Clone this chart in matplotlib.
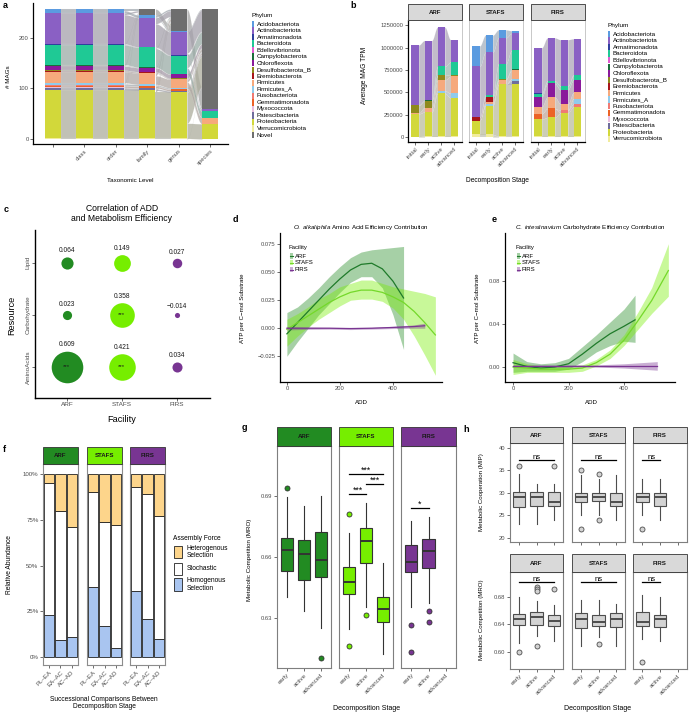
import numpy as np
import matplotlib
matplotlib.use("Agg")
import matplotlib.pyplot as plt
from matplotlib.patches import Rectangle
from matplotlib.colors import to_rgb

plt.rcParams["font.family"] = ["Liberation Sans", "DejaVu Sans"]
plt.rcParams["mathtext.fontset"] = "custom"
plt.rcParams["mathtext.it"] = "Liberation Sans:italic"
plt.rcParams["mathtext.rm"] = "Liberation Sans"

# ---------------- data ----------------
phyla = ["Acidobacteriota", "Actinobacteriota", "Armatimonadota", "Bacteroidota",
         "Bdellovibrionota", "Campylobacterota", "Chloroflexota", "Desulfobacterota_B",
         "Eremiobacterota", "Firmicutes", "Firmicutes_A", "Fusobacteriota",
         "Gemmatimonadota", "Myxococcota", "Patescibacteria", "Proteobacteria",
         "Verrucomicrobiota"]
phylum_colors = ["#5b9be0", "#8a60c4", "#2f3f9e", "#1fc995", "#e25ad0", "#1b6d3a",
                 "#8a1a9b", "#8e8a1c", "#a8161b", "#f6a97c", "#8fcbec", "#f07a73",
                 "#ec6326", "#e9bde0", "#6f6d9c", "#d2d83a", "#f1ec9c"]
novel_color = "#6e6e6e"

# a: MAGs per phylum at each taxonomic level (rows follow `phyla`)
tax_levels = ["", "class", "order", "family", "genus", "species"]
mag_counts = [
    [8, 8, 8, 5, 2, 0],
    [61, 61, 61, 58, 46, 4],
    [2, 2, 2, 1, 1, 0],
    [39, 39, 39, 39, 37, 13],
    [1, 1, 1, 0, 0, 0],
    [1, 1, 1, 1, 0, 0],
    [9, 9, 9, 8, 8, 0],
    [1, 1, 1, 1, 1, 0],
    [2, 2, 2, 2, 1, 0],
    [22, 22, 22, 22, 17, 12],
    [5, 5, 5, 3, 2, 0],
    [1, 1, 1, 1, 1, 0],
    [3, 3, 3, 3, 3, 0],
    [1, 1, 1, 1, 0, 0],
    [4, 4, 4, 4, 3, 0],
    [96, 96, 96, 95, 91, 30],
    [1, 1, 1, 1, 1, 0],
]
mag_novel = [0, 0, 0, 12, 43, 198]

# b: average MAG TPM per phylum (rows follow `phyla`), stages initial..advanced
stages = ["initial", "early", "active", "advanced"]
tpm_arf = [
    [0, 0, 0, 0], [670000, 670000, 440000, 250000], [0, 0, 0, 0], [0, 0, 100000, 140000],
    [0, 0, 0, 0], [5000, 10000, 0, 0], [0, 0, 0, 0], [85000, 70000, 50000, 20000],
    [0, 0, 0, 0], [10000, 50000, 120000, 190000], [0, 0, 30000, 50000], [0, 0, 0, 0],
    [0, 0, 0, 0], [0, 0, 0, 0], [0, 0, 0, 0], [255000, 270000, 480000, 430000],
    [5000, 10000, 10000, 10000]]
tpm_stafs = [
    [230000, 190000, 90000, 30000], [570000, 480000, 290000, 190000], [0, 0, 0, 0],
    [0, 20000, 170000, 210000], [0, 0, 0, 0], [0, 0, 0, 10000], [0, 0, 0, 0],
    [0, 0, 10000, 0], [35000, 60000, 0, 0], [0, 20000, 50000, 100000], [0, 20000, 0, 20000],
    [0, 0, 0, 0], [0, 0, 0, 0], [0, 0, 0, 0], [0, 0, 0, 40000],
    [155000, 320000, 580000, 580000], [30000, 30000, 10000, 10000]]
tpm_firs = [
    [0, 0, 0, 0], [505000, 480000, 520000, 400000], [15000, 0, 0, 10000],
    [30000, 30000, 40000, 50000], [0, 0, 0, 0], [0, 0, 0, 0], [110000, 150000, 160000, 140000],
    [0, 0, 0, 0], [0, 0, 0, 0], [80000, 130000, 70000, 70000], [0, 0, 0, 60000],
    [0, 0, 30000, 30000], [60000, 100000, 0, 0], [0, 0, 0, 0], [0, 0, 0, 0],
    [190000, 210000, 260000, 330000], [10000, 10000, 10000, 10000]]

facilities = ["ARF", "STAFS", "FIRS"]
fac_colors = ["#228b22", "#76ee00", "#783592"]

# c: correlation of ADD and metabolism efficiency
resources = ["AminoAcids", "Carbohydrate", "Lipid"]
rho_arf = [0.609, 0.023, 0.064]
rho_stafs = [0.421, 0.358, 0.149]
rho_firs = [0.034, -0.014, 0.027]
sig_arf = ["***", "", ""]
sig_stafs = ["***", "***", ""]
sig_firs = ["", "", ""]

# d: O. alkaliphila amino acid efficiency contribution (smooth + CI)
d_arf_add = [0, 40, 80, 120, 160, 200, 240, 280, 320, 360, 400, 440]
d_arf_fit = [-0.005, 0.005, 0.015, 0.025, 0.035, 0.044, 0.052, 0.057, 0.058, 0.053, 0.042, 0.027]
d_arf_lo = [-0.025, -0.012, 0.0, 0.012, 0.022, 0.032, 0.041, 0.046, 0.046, 0.036, 0.012, -0.019]
d_arf_hi = [0.014, 0.019, 0.027, 0.036, 0.046, 0.055, 0.063, 0.068, 0.070, 0.071, 0.072, 0.073]
d_stafs_add = [0, 40, 80, 120, 160, 200, 240, 280, 320, 360, 400, 440, 480, 520, 560]
d_stafs_fit = [-0.001, 0.005, 0.011, 0.017, 0.023, 0.028, 0.032, 0.034, 0.034, 0.032, 0.028,
               0.023, 0.015, 0.005, -0.006]
d_stafs_lo = [-0.016, -0.007, 0.001, 0.008, 0.014, 0.020, 0.025, 0.026, 0.026, 0.024, 0.018,
              0.008, -0.007, -0.024, -0.042]
d_stafs_hi = [0.008, 0.013, 0.019, 0.026, 0.031, 0.037, 0.040, 0.043, 0.043, 0.040, 0.037,
              0.035, 0.033, 0.031, 0.028]
d_firs_add = [0, 80, 160, 240, 320, 400, 480, 520]
d_firs_fit = [0.0, 0.0, 0.0, -0.0003, 0.0, 0.0007, 0.0015, 0.0022]
d_firs_lo = [-0.0015, -0.001, -0.0008, -0.0012, -0.0008, -0.0003, 0.0, 0.0]
d_firs_hi = [0.0015, 0.001, 0.0008, 0.0006, 0.0008, 0.0017, 0.003, 0.0045]

# e: C. intestinavium carbohydrate efficiency contribution
e_arf_add = [0, 50, 100, 150, 200, 250, 300, 350, 400, 440]
e_arf_fit = [0.004, 0.0005, -0.001, 0.0, 0.003, 0.012, 0.022, 0.031, 0.038, 0.044]
e_arf_lo = [-0.005, -0.004, -0.004, -0.004, -0.002, 0.005, 0.014, 0.020, 0.024, 0.023]
e_arf_hi = [0.013, 0.005, 0.003, 0.004, 0.008, 0.019, 0.030, 0.042, 0.054, 0.067]
e_stafs_add = [0, 50, 100, 150, 200, 250, 300, 350, 400, 450, 500, 560]
e_stafs_fit = [0.0, -0.001, -0.002, -0.002, -0.002, -0.001, 0.004, 0.012, 0.025, 0.043, 0.062, 0.090]
e_stafs_lo = [-0.007, -0.005, -0.005, -0.005, -0.005, -0.004, 0.001, 0.008, 0.020, 0.035, 0.050, 0.066]
e_stafs_hi = [0.007, 0.003, 0.001, 0.001, 0.001, 0.002, 0.007, 0.016, 0.030, 0.051, 0.074, 0.115]
e_firs_add = [0, 100, 200, 300, 400, 520]
e_firs_fit = [0.001, 0.001, 0.001, 0.001, 0.001, 0.001]
e_firs_lo = [0.0, 0.0, 0.0, 0.0, -0.001, -0.003]
e_firs_hi = [0.002, 0.002, 0.002, 0.002, 0.003, 0.005]

# f: community assembly (% of comparisons)
pairs = ["PL\u2013EA", "EA\u2013AC", "AC\u2013AD"]
homog_arf, stoch_arf, hetero_arf = [23, 9, 11], [72, 71, 60], [5, 20, 29]
homog_stafs, stoch_stafs, hetero_stafs = [38, 17, 5], [52, 57, 67], [10, 26, 28]
homog_firs, stoch_firs, hetero_firs = [36, 21, 10], [57, 68, 67], [7, 11, 23]

# g: metabolic competition (MRO) per stage: whislo, q1, median, q3, whishi
stages3 = ["early", "active", "advanced"]
mro_arf = [[0.6403, 0.6531, 0.6634, 0.6693, 0.6895], [0.6334, 0.6487, 0.6615, 0.6684, 0.6851],
           [0.625, 0.6502, 0.6585, 0.6723, 0.690]]
mro_arf_out = [[0.694], [], [0.6103]]
mro_stafs = [[0.6246, 0.6418, 0.6477, 0.6551, 0.6718], [0.6354, 0.6570, 0.6679, 0.6743, 0.6865],
             [0.6122, 0.6280, 0.6344, 0.6403, 0.6570]]
mro_stafs_out = [[0.6811, 0.6162], [0.6315], []]
mro_firs = [[0.6354, 0.6526, 0.6575, 0.6659, 0.6777], [0.6374, 0.6546, 0.6631, 0.6688, 0.6797], None]
mro_firs_out = [[0.6265, 0.6133], [0.6334, 0.628], []]
g_tests = [("STAFS", 0, 1, "***"), ("STAFS", 1, 2, "***"), ("STAFS", 0, 2, "***"),
           ("FIRS", 0, 1, "*")]

# h: metabolic cooperation (MIP) and competition (MRO)
mip_arf = [[23.2, 26.9, 29.2, 30.3, 34.1], [23.2, 27.0, 29.0, 30.1, 32.0], [24.0, 27.0, 28.0, 30.1, 32.0]]
mip_arf_out = [[36.1], [], [36.0]]
mip_stafs = [[25.2, 28.0, 29.0, 30.0, 34.0], [25.2, 28.2, 29.0, 30.0, 33.0], [24.0, 27.0, 28.0, 30.0, 34.0]]
mip_stafs_out = [[35.2, 22.0], [34.1, 24.0], []]
mip_firs = [[25.2, 28.0, 29.0, 30.0, 33.0], [24.0, 27.0, 29.0, 30.0, 33.0], None]
mip_firs_out = [[22.0], [], []]
mro2_arf = [[0.6124, 0.639, 0.6473, 0.6545, 0.680], [0.6225, 0.6385, 0.650, 0.6575, 0.6735],
            [0.6153, 0.637, 0.6444, 0.6531, 0.6676]]
mro2_arf_out = [[0.599], [0.694, 0.691, 0.688, 0.608], [0.692]]
mro2_stafs = [[0.608, 0.634, 0.648, 0.657, 0.676], [0.621, 0.638, 0.644, 0.654, 0.676],
              [0.609, 0.636, 0.648, 0.657, 0.669]]
mro2_stafs_out = [[], [0.611], []]
mro2_firs = [[0.618, 0.637, 0.644, 0.658, 0.683], [0.615, 0.636, 0.647, 0.654, 0.679], None]
mro2_firs_out = [[0.585], [], []]
h_tests = [("ARF", 0, 2, "ns"), ("STAFS", 0, 2, "ns"), ("FIRS", 0, 1, "ns")]

# ---------------- helpers ----------------
W, H = 691, 714
fig = plt.figure(figsize=(W / 100, H / 100), dpi=100)


def panel(x0, y0, x1, y1):
    return fig.add_axes([x0 / W, 1 - y1 / H, (x1 - x0) / W, (y1 - y0) / H])


ov = fig.add_axes([0, 0, 1, 1], zorder=20)
ov.set_xlim(0, W)
ov.set_ylim(H, 0)
ov.axis("off")


def txt(x, y, s, size=4.5, **kw):
    kw.setdefault("ha", "center")
    kw.setdefault("va", "center")
    ov.text(x, y, s, fontsize=size, **kw)


def strip(x0, y0, x1, y1, label, fc):
    ov.add_patch(Rectangle((x0, y0), x1 - x0, y1 - y0, facecolor=fc, edgecolor="#333333", lw=0.6))
    txt((x0 + x1) / 2, (y0 + y1) / 2 + 0.3, label, size=4.4, fontweight="bold", color="#1a1a1a")


def ticks(ax, size=4.2):
    ax.tick_params(axis="both", labelsize=size, length=2, width=0.5, color="#333333",
                   labelcolor="#4d4d4d", pad=1.2)


def classic(ax, lw=0.9):
    for s in ["top", "right"]:
        ax.spines[s].set_visible(False)
    for s in ["left", "bottom"]:
        ax.spines[s].set_linewidth(lw)
        ax.spines[s].set_color("black")


def framed(ax, color="#7f7f7f", lw=0.7):
    for s in ax.spines.values():
        s.set_color(color)
        s.set_linewidth(lw)


def mix(c, grey, frac):
    return tuple(frac * np.array(to_rgb(c)) + (1 - frac) * np.array(to_rgb(grey)))


def ribbon(ax, xl, xr, l0, l1, r0, r1, color, alpha):
    xs = np.linspace(xl, xr, 40)
    s = (1 - np.cos(np.pi * (xs - xl) / (xr - xl))) / 2
    ax.fill_between(xs, l0 + (r0 - l0) * s, l1 + (r1 - l1) * s, facecolor=color,
                    alpha=alpha, edgecolor="#eeeeee", lw=0.1)


def rot_labels(ax, labels, size=4.2):
    ax.set_xticklabels(labels, rotation=45, ha="right", va="top", rotation_mode="anchor",
                       fontsize=size)


# ---------------- a ----------------
ax = panel(33, 3, 228, 144)
counts = np.array(mag_counts + [mag_novel], dtype=float)
nov = len(phyla)
order = list(range(nov - 1, -1, -1)) + [nov]
bottoms = np.zeros_like(counts)
run = np.zeros(len(tax_levels))
for k in order:
    bottoms[k] = run
    run = run + counts[k]
cols_all = phylum_colors + [novel_color]
xa = np.arange(len(tax_levels)) + 1
bw = 0.52
for i in range(len(tax_levels) - 1):
    xl, xr = xa[i] + bw / 2, xa[i + 1] - bw / 2
    cursor = bottoms[nov, i + 1] + counts[nov, i]
    if counts[nov, i] > 0:
        ribbon(ax, xl, xr, bottoms[nov, i], bottoms[nov, i] + counts[nov, i],
               bottoms[nov, i + 1], bottoms[nov, i + 1] + counts[nov, i], "#a0a0a0", 0.7)
    for k in order[:-1]:
        m = min(counts[k, i], counts[k, i + 1])
        c = mix(cols_all[k], "#a8a8a8", 0.1)
        if m > 0:
            ribbon(ax, xl, xr, bottoms[k, i], bottoms[k, i] + m,
                   bottoms[k, i + 1], bottoms[k, i + 1] + m, c, 0.75)
        ex = counts[k, i] - m
        if ex > 0:
            ribbon(ax, xl, xr, bottoms[k, i] + m, bottoms[k, i] + counts[k, i],
                   cursor, cursor + ex, c, 0.75)
            cursor += ex
for k in order:
    ax.bar(xa, counts[k], bottom=bottoms[k], width=bw, color=cols_all[k], lw=0)
ax.set_xlim(0.36, 6.57)
ax.set_ylim(-10, 269)
ax.set_yticks([0, 100, 200])
ax.set_xticks(xa)
classic(ax)
ticks(ax)
rot_labels(ax, tax_levels)
txt(9, 77, "# MAGs", rotation=90)
txt(130, 181, "Taxonomic Level")
txt(252, 15, "Phylum", size=4.6, ha="left")
for i, (name, c) in enumerate(zip(phyla + ["Novel"], cols_all)):
    y = 24 + i * 6.53
    ov.add_patch(Rectangle((252, y - 3.2), 2.2, 6.4, color=c, lw=0))
    txt(257, y, name, size=4.5, ha="left")

# ---------------- b ----------------
b_boxes = [(408, 462), (469, 523), (531, 585)]
for f, (x0, x1) in enumerate(b_boxes):
    ax = panel(x0, 20, x1, 142)
    data = np.array([tpm_arf, tpm_stafs, tpm_firs][f], dtype=float)
    ob = list(range(len(phyla) - 1, -1, -1))
    bot = np.zeros_like(data)
    run = np.zeros(len(stages))
    for k in ob:
        bot[k] = run
        run = run + data[k]
    xb = np.arange(len(stages)) + 1
    bwb = 0.55
    for i in range(len(stages) - 1):
        for k in ob:
            if data[k, i] > 0 or data[k, i + 1] > 0:
                ribbon(ax, xb[i] + bwb / 2, xb[i + 1] - bwb / 2, bot[k, i], bot[k, i] + data[k, i],
                       bot[k, i + 1], bot[k, i + 1] + data[k, i + 1],
                       mix(phylum_colors[k], "#b0b0b0", 0.2), 0.7)
    for k in ob:
        ax.bar(xb, data[k], bottom=bot[k], width=bwb, color=phylum_colors[k], lw=0)
    ax.set_xlim(0.46, 4.6)
    ax.set_ylim(-55000, 1310000)
    ax.set_xticks(xb)
    framed(ax, "#bfbfbf", 0.6)
    ax.spines["bottom"].set_color("black")
    ax.spines["bottom"].set_linewidth(0.9)
    ticks(ax)
    rot_labels(ax, stages)
    if f == 0:
        ax.spines["left"].set_color("black")
        ax.spines["left"].set_linewidth(0.9)
        ax.set_yticks([0, 250000, 500000, 750000, 1000000, 1250000])
        ax.set_yticklabels(["0", "250000", "500000", "750000", "1000000", "1250000"])
    else:
        ax.set_yticks([])
    strip(x0, 4, x1, 20, facilities[f], "#d9d9d9")
txt(365, 75, "Average MAG TPM", size=4.8, rotation=90)
txt(497, 181, "Decomposition Stage", size=4.8)
txt(608, 25, "Phylum", size=4.6, ha="left")
for i, (name, c) in enumerate(zip(phyla, phylum_colors)):
    y = 34 + i * 6.56
    ov.add_patch(Rectangle((608, y - 3.2), 2.2, 6.4, color=c, lw=0))
    txt(613, y, name, size=4.5, ha="left")

# ---------------- c ----------------
ax = panel(35, 230, 210, 398)
for fi, (rho, sig, col) in enumerate(zip([rho_arf, rho_stafs, rho_firs],
                                         [sig_arf, sig_stafs, sig_firs], fac_colors)):
    for ri in range(len(resources)):
        r_px = np.sqrt(12 + 390 * rho[ri])
        ax.scatter(fi + 1, ri + 1, s=(1.44 * r_px) ** 2, color=col, lw=0, zorder=3)
        ax.text(fi + 1, ri + 1 + (r_px + 6) / 52, f"{rho[ri]:.3f}".replace("-", "\u2212"),
                ha="center", va="center", fontsize=4.8, color="#1a1a1a")
        if sig[ri]:
            ax.text(fi + 1, ri + 1, sig[ri], ha="center", va="center", fontsize=4.3,
                    color="#1a1a1a", zorder=4)
ax.set_xlim(0.42, 3.6)
ax.set_ylim(0.40, 3.63)
ax.set_xticks([1, 2, 3])
ax.set_xticklabels(facilities)
ax.set_yticks([1, 2, 3])
ax.set_yticklabels(resources, rotation=90, va="center")
classic(ax, 1.0)
ticks(ax, 4.6)
txt(122, 213.5, "Correlation of ADD\nand Metabolism Efficiency", size=6.2, linespacing=1.15)
txt(12, 315, "Resource", size=6.6, rotation=90)
txt(122, 420, "Facility", size=6.6)


# ---------------- d / e ----------------
def smooth_panel(ax, series, line_cols):
    for (xs, fit, lo, hi), col, lc in zip(series, fac_colors, line_cols):
        ax.fill_between(xs, lo, hi, color=col, alpha=0.4, lw=0)
        ax.plot(xs, fit, color=lc, lw=0.9)
    classic(ax)
    ticks(ax, 4.2)


line_cols = ["#1f7a2a", "#74d82a", "#7a3592"]
ax = panel(280, 233, 442, 382)
smooth_panel(ax, [(d_arf_add, d_arf_fit, d_arf_lo, d_arf_hi),
                  (d_stafs_add, d_stafs_fit, d_stafs_lo, d_stafs_hi),
                  (d_firs_add, d_firs_fit, d_firs_lo, d_firs_hi)], line_cols)
ax.set_xlim(-26, 585)
ax.set_ylim(-0.048, 0.085)
ax.set_xticks([0, 200, 400])
ax.set_yticks([-0.025, 0, 0.025, 0.05, 0.075])
ax.set_yticklabels(["\u22120.025", "0.000", "0.025", "0.050", "0.075"])

ax = panel(505, 233, 675, 382)
smooth_panel(ax, [(e_arf_add, e_arf_fit, e_arf_lo, e_arf_hi),
                  (e_stafs_add, e_stafs_fit, e_stafs_lo, e_stafs_hi),
                  (e_firs_add, e_firs_fit, e_firs_lo, e_firs_hi)], line_cols)
ax.set_xlim(-29, 584)
ax.set_ylim(-0.014, 0.125)
ax.set_xticks([0, 200, 400])
ax.set_yticks([0, 0.04, 0.08])
ax.set_yticklabels(["0.00", "0.04", "0.08"])

for lx, cx, title in [(289, 361, r"$\mathit{O.\ alkaliphila}$ Amino Acid Efficiency Contribution"),
                      (516, 590, r"$\mathit{C.\ intestinavium}$ Carbohydrate Efficiency Contribution")]:
    txt(cx, 227, title, size=4.5)
    txt(lx, 247, "Facility", size=4.3, ha="left")
    for i, (name, col, lc) in enumerate(zip(facilities, fac_colors, line_cols)):
        y = 256 + i * 6.8
        ov.add_patch(Rectangle((lx + 1, y - 2.6), 3, 5.2, color=col, alpha=0.4, lw=0))
        ov.plot([lx + 1, lx + 4], [y, y], color=lc, lw=0.8)
        txt(lx + 6, y, name, size=4.3, ha="left")
txt(243, 308, "ATP per C\u2212mol Substrate", size=4.4, rotation=90)
txt(478, 308, "ATP per C\u2212mol Substrate", size=4.4, rotation=90)
txt(361, 402, "ADD", size=4.4)
txt(591, 402, "ADD", size=4.4)

# ---------------- f ----------------
f_boxes = [(43, 78), (87, 122), (130, 165)]
f_data = [(homog_arf, stoch_arf, hetero_arf), (homog_stafs, stoch_stafs, hetero_stafs),
          (homog_firs, stoch_firs, hetero_firs)]
col_het, col_sto, col_hom = "#fdd58b", "#ffffff", "#a9c5f0"
for fi, ((x0, x1), (hom, sto, het)) in enumerate(zip(f_boxes, f_data)):
    ax = panel(x0, 464, x1, 665)
    xf = np.arange(len(pairs)) + 1
    hom, sto, het = np.array(hom), np.array(sto), np.array(het)
    kw = dict(width=0.9, edgecolor="#222222", lw=0.6)
    ax.bar(xf, hom, color=col_hom, **kw)
    ax.bar(xf, sto, bottom=hom, color=col_sto, **kw)
    ax.bar(xf, het, bottom=hom + sto, color=col_het, **kw)
    ax.set_xlim(0.48, 3.52)
    ax.set_ylim(-4.4, 105.5)
    ax.set_xticks(xf)
    framed(ax, "#8c8c8c", 0.8)
    ticks(ax, 4.4)
    rot_labels(ax, pairs, 4.4)
    if fi == 0:
        ax.set_yticks([0, 25, 50, 75, 100])
        ax.set_yticklabels(["0%", "25%", "50%", "75%", "100%"])
    else:
        ax.set_yticks([])
    strip(x0, 447, x1, 464, facilities[fi], fac_colors[fi])
txt(10, 565, "Relative Abundance", size=4.8, rotation=90)
txt(104, 703, "Successional Comparisons Between\nDecomposition Stage", size=4.8, linespacing=1.1)
txt(173, 539, "Assembly Force", size=4.8, ha="left")
for (y0, y1), c, lab in [((546, 558), col_het, "Heterogenous\nSelection"),
                         ((563, 575), col_sto, "Stochastic"),
                         ((578, 591), col_hom, "Homogenous\nSelection")]:
    ov.add_patch(Rectangle((174, y0), 8, y1 - y0, facecolor=c, edgecolor="#222222", lw=0.6))
    txt(187, (y0 + y1) / 2, lab, size=4.8, ha="left", linespacing=1.05)


# ---------------- g / h box plots ----------------
def boxes(ax, stats5, outs, fill, edge, ms):
    st, pos = [], []
    for i, (s, o) in enumerate(zip(stats5, outs)):
        if s is None:
            continue
        st.append(dict(whislo=s[0], q1=s[1], med=s[2], q3=s[3], whishi=s[4], fliers=o))
        pos.append(i + 1)
    ax.bxp(st, positions=pos, widths=0.7, patch_artist=True, showcaps=False,
           boxprops=dict(facecolor=fill, edgecolor=edge, lw=0.8),
           medianprops=dict(color=edge, lw=1.4),
           whiskerprops=dict(color=edge, lw=0.8),
           flierprops=dict(marker="o", markerfacecolor=fill, markeredgecolor=edge,
                           markersize=ms, markeredgewidth=0.6))


def bracket(ax, i, j, y, label, size, pad):
    ax.plot([i + 1, j + 1], [y, y], color="black", lw=0.9, clip_on=False)
    ax.annotate(label, ((i + j) / 2 + 1, y), xytext=(0, pad), textcoords="offset points",
                ha="center", va="baseline", fontsize=size, annotation_clip=False)


g_boxes = [(277, 331), (339, 393), (401, 456)]
g_stats = [(mro_arf, mro_arf_out), (mro_stafs, mro_stafs_out), (mro_firs, mro_firs_out)]
for fi, ((x0, x1), (s5, outs)) in enumerate(zip(g_boxes, g_stats)):
    ax = panel(x0, 446, x1, 668)
    boxes(ax, s5, outs, fac_colors[fi], "#333333", 3.6)
    ax.set_xlim(0.41, 3.59)
    ax.set_ylim(0.6054, 0.7146)
    ax.set_xticks([1, 2, 3])
    framed(ax, "#7f7f7f", 0.8)
    ticks(ax, 4.2)
    rot_labels(ax, stages3, 4.4)
    if fi == 0:
        ax.set_yticks([0.63, 0.66, 0.69])
        ax.set_yticklabels(["0.63", "0.66", "0.69"])
    else:
        ax.set_yticks([])
    top = max(max([s[4] for s in s5 if s is not None]), max(sum(outs, [])))
    level = 0
    for fac, i, j, lab in g_tests:
        if fac == facilities[fi]:
            bracket(ax, i, j, top + 0.0045 + level * 0.0049, lab, 6.3, 0.6)
            level += 1
    strip(x0, 427, x1, 446, facilities[fi], fac_colors[fi])
txt(250, 560, "Metabolic Competition (MRO)", size=4.5, rotation=90)
txt(367, 708, "Decomposition Stage", size=5)

h_boxes = [(510, 563), (572, 625), (633, 687)]
h_rows = [
    ((443, 542), (427, 443), (19.1, 41.1), [20, 25, 30, 35, 40], ["20", "25", "30", "35", "40"],
     [(mip_arf, mip_arf_out), (mip_stafs, mip_stafs_out), (mip_firs, mip_firs_out)], 1.2, False),
    ((572, 669), (554, 572), (0.575, 0.716), [0.60, 0.64, 0.68], ["0.60", "0.64", "0.68"],
     [(mro2_arf, mro2_arf_out), (mro2_stafs, mro2_stafs_out), (mro2_firs, mro2_firs_out)], 0.007, True),
]
for (py0, py1), (sy0, sy1), ylim, yt, ytl, stats, pad, labels in h_rows:
    row_top = max(max(sum(o, [])) for _, o in stats)
    for fi, ((x0, x1), (s5, outs)) in enumerate(zip(h_boxes, stats)):
        ax = panel(x0, py0, x1, py1)
        boxes(ax, s5, outs, "#d3d3d3", "#4d4d4d", 3.6)
        ax.set_xlim(0.47, 3.53)
        ax.set_ylim(*ylim)
        ax.set_xticks([1, 2, 3])
        framed(ax, "#7f7f7f", 0.8)
        ticks(ax, 4.2)
        if labels:
            rot_labels(ax, stages3, 4.4)
        else:
            ax.set_xticklabels([])
        if fi == 0:
            ax.set_yticks(yt)
            ax.set_yticklabels(ytl)
        else:
            ax.set_yticks([])
        for fac, i, j, lab in h_tests:
            if fac == facilities[fi]:
                bracket(ax, i, j, row_top + pad, lab, 5.6, 0.8)
        strip(x0, sy0, x1, sy1, facilities[fi], "#d9d9d9")
txt(482, 492, "Metabolic Cooperation (MIP)", size=4.4, rotation=90)
txt(482, 620, "Metabolic Competition (MRO)", size=4.4, rotation=90)
txt(598, 709, "Decomposition Stage", size=5)

# ---------------- panel letters ----------------
for lab, x, y in [("a", 3, 6), ("b", 350, 6), ("c", 4, 210), ("d", 233, 220), ("e", 492, 220),
                  ("f", 3, 449), ("g", 242, 428), ("h", 463, 429)]:
    txt(x, y, lab, size=6.5, fontweight="bold", ha="left")

fig.savefig("out.png", dpi=100)
